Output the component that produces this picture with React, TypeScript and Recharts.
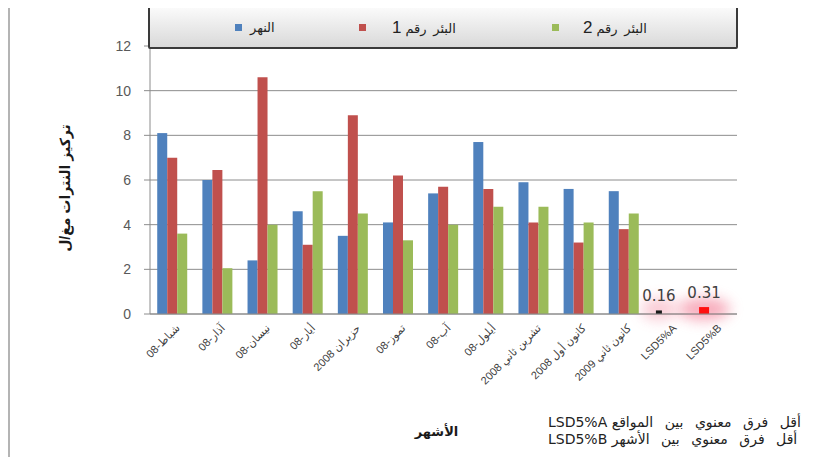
import React from 'react'
import { Bar, BarChart, CartesianGrid, LabelList, XAxis, YAxis } from 'recharts'

const categories = [
  'شباط-08',
  'آذار-08',
  'نيسان-08',
  'أيار-08',
  'حزيران 2008',
  'تموز-08',
  'آب-08',
  'أيلول-08',
  'تشرين ثاني 2008',
  'كانون أول 2008',
  'كانون ثاني 2009',
  'LSD5%A',
  'LSD5%B',
]
const river = [8.1, 6.0, 2.4, 4.6, 3.5, 4.1, 5.4, 7.7, 5.9, 5.6, 5.5]
const well1 = [7.0, 6.45, 10.6, 3.1, 8.9, 6.2, 5.7, 5.6, 4.1, 3.2, 3.8]
const well2 = [3.6, 2.05, 4.0, 5.5, 4.5, 3.3, 4.0, 4.8, 4.8, 4.1, 4.5]
const lsd = [0.16, 0.31]
const yTicks = [0, 2, 4, 6, 8, 10, 12]
const edgeTicks = [0, 1, 2, 3, 4, 5, 6, 7, 8, 9, 10, 11, 12, 13]

const BLUE = '#4f81bd'
const RED = '#c0504d'
const GREEN = '#9bbb59'
const LSD_COLORS = ['#1a1a1a', '#ff1010']
const FONT = "'Liberation Sans', 'DejaVu Sans', sans-serif"

const data = categories.map((name, i) => {
  const k = i - river.length
  return {
    name,
    river: k >= 0 ? lsd[k] : river[i],
    well1: k >= 0 ? null : well1[i],
    well2: k >= 0 ? null : well2[i],
    lsdIndex: k >= 0 ? k : -1,
  }
})

const legendItems = [
  { color: BLUE, label: 'النهر', num: '', left: 225, gap: 8 },
  { color: RED, label: 'البئر رقم', num: '1', left: 349, gap: 26 },
  { color: GREEN, label: 'البئر رقم', num: '2', left: 542, gap: 24 },
]

const notes = [
  { text: 'أقل فرق معنوي بين المواقع', code: 'LSD5%A', top: 409 },
  { text: 'أقل فرق معنوي بين الأشهر', code: 'LSD5%B', top: 426 },
]

// first series bar; the two LSD entries get their own colour and a soft glow
function RiverBar(props: any) {
  const { x, y, width, height, payload } = props
  const k = payload?.lsdIndex ?? -1
  if (k < 0) return <rect x={x} y={y} width={width} height={height} fill={BLUE} />
  const cx = x + width / 2
  const id = `glow-${k}`
  return (
    <g>
      <defs>
        <filter id={id} x="-100%" y="-100%" width="300%" height="300%">
          <feGaussianBlur stdDeviation={7} />
        </filter>
      </defs>
      <ellipse
        cx={cx}
        cy={y + height - 5}
        rx={k === 0 ? 18 : 26}
        ry={11}
        fill="#f37d95"
        opacity={k === 0 ? 0.4 : 0.65}
        filter={`url(#${id})`}
      />
      <rect x={k === 0 ? x + 2 : x} y={y} width={k === 0 ? width - 4 : width} height={height} fill={LSD_COLORS[k]} />
    </g>
  )
}

function LsdLabel(props: any) {
  const { x, y, width, index } = props
  if (data[index].lsdIndex < 0) return null
  return (
    <text
      x={x + width / 2}
      y={y - 9}
      textAnchor="middle"
      fontSize={15}
      fill="#404040"
      fontFamily="'DejaVu Sans', sans-serif"
    >
      {data[index].river.toFixed(2)}
    </text>
  )
}

function MonthTick(props: any) {
  const { x, y, payload } = props
  return (
    <g transform={`translate(${x + 5},${y + 4})`}>
      <text
        transform="rotate(-45)"
        textAnchor="end"
        dominantBaseline="central"
        fontSize={11}
        fill="#404040"
        fontFamily={FONT}
      >
        {payload.value}
      </text>
    </g>
  )
}

export default function App() {
  return (
    <div style={{ position: 'relative', width: 819, height: 452, marginTop: -3, overflow: 'hidden', fontFamily: FONT }}>
      <div
        style={{
          position: 'absolute',
          left: 0,
          top: 0,
          right: 0,
          bottom: 0,
          borderLeft: '2px solid #b4b4b4',
          borderTop: '2px solid #b4b4b4',
        }}
      />
      <div style={{ position: 'absolute', left: 0, top: 0 }}>
        <BarChart
          width={819}
          height={452}
          data={data}
          margin={{ top: 41, right: 90, left: 45, bottom: 33 }}
          barGap={0}
          barCategoryGap="16%"
        >
          <CartesianGrid vertical={false} stroke="#8c8c8c" strokeWidth={1} />
          <XAxis
            xAxisId="edges"
            type="number"
            domain={[0, 13]}
            ticks={edgeTicks}
            tick={false}
            axisLine={false}
            tickLine={{ stroke: '#8c8c8c' }}
            tickSize={5}
            height={0}
          />
          <XAxis
            dataKey="name"
            interval={0}
            tick={<MonthTick />}
            tickLine={false}
            axisLine={{ stroke: '#8c8c8c' }}
            height={110}
            label={{
              value: 'الأشهر',
              position: 'bottom',
              offset: 3,
              dx: -7,
              style: { fontSize: 13, fontWeight: 'bold', fill: '#1a1a1a', fontFamily: FONT },
            }}
          />
          <YAxis
            domain={[0, 12]}
            ticks={yTicks}
            width={97}
            tickSize={6}
            tickMargin={13}
            tickLine={{ stroke: '#8c8c8c' }}
            axisLine={{ stroke: '#8c8c8c' }}
            tick={{ fontSize: 14, fill: '#595959', fontFamily: FONT }}
            label={{
              value: 'تركيز النترات مغ/ل',
              angle: -90,
              position: 'insideLeft',
              offset: 12,
              dy: 8,
              style: { textAnchor: 'middle', fontSize: 14, fontWeight: 'bold', fill: '#1a1a1a', fontFamily: FONT },
            }}
          />
          <Bar dataKey="river" name="النهر" fill={BLUE} isAnimationActive={false} shape={<RiverBar />}>
            <LabelList dataKey="river" content={<LsdLabel />} />
          </Bar>
          <Bar dataKey="well1" name="البئر رقم 1" fill={RED} isAnimationActive={false} />
          <Bar dataKey="well2" name="البئر رقم 2" fill={GREEN} isAnimationActive={false} />
        </BarChart>
      </div>

      <div
        style={{
          position: 'absolute',
          left: 140,
          top: 1,
          width: 590,
          height: 43,
          boxSizing: 'border-box',
          border: '2px solid #3a3a3a',
          borderRadius: 2,
          background: 'linear-gradient(#fafafa, #d9d9d9)',
        }}
      >
        {legendItems.map((it) => (
          <div
            key={it.color}
            style={{ position: 'absolute', left: it.left - 140, top: 0, height: 39, display: 'flex', alignItems: 'center' }}
          >
            <span style={{ display: 'inline-block', width: 7, height: 7, background: it.color }} />
            <span dir="rtl" style={{ marginLeft: it.gap, fontSize: 13, wordSpacing: 3, color: '#222', whiteSpace: 'nowrap' }}>
              {it.label}
              {it.num && <span style={{ fontSize: 17, marginRight: 4 }}>{it.num}</span>}
            </span>
          </div>
        ))}
      </div>

      {notes.map((n) => (
        <div
          key={n.code}
          dir="rtl"
          style={{
            position: 'absolute',
            left: 540,
            top: n.top,
            width: 'max-content',
            height: 16,
            lineHeight: '16px',
            whiteSpace: 'nowrap',
            color: '#222',
            fontSize: 14,
            fontFamily: "'DejaVu Sans', sans-serif",
          }}
        >
          <span style={{ wordSpacing: 7 }}>{n.text}</span> {n.code}
        </div>
      ))}
    </div>
  )
}
